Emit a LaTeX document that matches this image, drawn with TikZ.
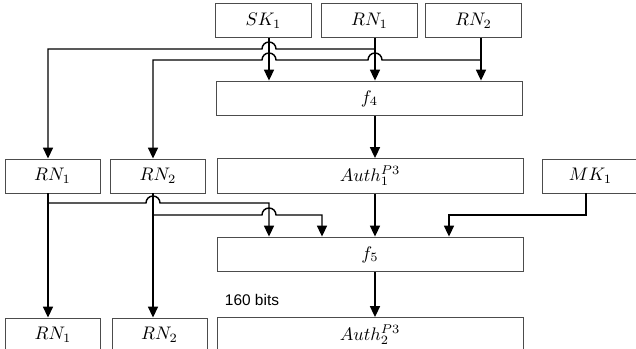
\documentclass[tikz,border=0pt]{standalone}
\usepackage{amsmath}
\usepackage{fontspec}
\newfontfamily\bitsfont{Liberation Sans}
\usetikzlibrary{arrows.meta}

\begin{document}
\begin{tikzpicture}[
  x=0.55pt,y=0.55pt,
  sbox/.style={draw=black!70,line width=0.5pt,minimum width=52.3pt,minimum height=18.7pt,
    inner sep=0pt},
  wbox/.style={sbox,minimum width=168.3pt,minimum height=19.2pt},
  ln/.style={line width=0.8pt},
  arr/.style={ln,-{Triangle[length=6pt,width=5.5pt]}}]
\useasboundingbox (0,0) rectangle (636,-349);
\clip (0,0) rectangle (636,-349);
% columns of the connectors
\coordinate (xa) at (269,0);
\coordinate (xb) at (375,0);
\coordinate (xc) at (481,0);
\coordinate (xd) at (48,0);
\coordinate (xe) at (153,0);
\coordinate (xf) at (322,0);
\coordinate (xg) at (449,0);
\coordinate (xh) at (586,0);
% boxes
\node[sbox] (sk)    at (263.5,-20.5) {$SK_1$};
\node[sbox] (rnta)  at (369.5,-20.5) {$RN_1$};
\node[sbox] (rntb)  at (473.5,-20.5) {$RN_2$};
\node[wbox] (ffour) at (369.5,-98.5) {$f_4$};
\node[sbox] (rnma)  at (52.5,-176)   {$RN_1$};
\node[sbox] (rnmb)  at (158,-176)    {$RN_2$};
\node[wbox] (autha) at (370,-176)    {$Auth_1^{P3}$};
\node[sbox] (mk)    at (590.5,-176)  {$MK_1$};
\node[wbox] (ffive) at (370,-254.5)  {$f_5$};
\node[sbox] (rnba)  at (53,-335)     {$RN_1$};
\node[sbox] (rnbb)  at (159.5,-335)  {$RN_2$};
\node[wbox] (authb) at (370,-335)    {$Auth_2^{P3}$};
\node[font=\bitsfont\fontsize{8.5}{10}\selectfont] (bits) at (252,-299.5) {160 bits};
% upper part
\draw[arr] (sk.south -| xa) -- (xa |- ffour.north);
\draw[arr] (rnta.south -| xb) -- (xb |- ffour.north);
\draw[arr] (rntb.south -| xc) -- (xc |- ffour.north);
\draw[arr] (375,-49) -- (276,-49) arc[start angle=0,end angle=180,radius=7]
  -- (48,-49) -- (xd |- rnma.north);
\draw[arr] (481,-60) -- (382,-60) arc[start angle=0,end angle=180,radius=7]
  -- (276,-60) arc[start angle=0,end angle=180,radius=7]
  -- (153,-60) -- (xe |- rnmb.north);
\draw[arr] (xb |- ffour.south) -- (xb |- autha.north);
% lower part
\draw[arr] (xd |- rnma.south) -- (xd |- rnba.north);
\draw[arr] (xe |- rnmb.south) -- (xe |- rnbb.north);
\draw[arr] (48,-203) -- (146,-203) arc[start angle=180,end angle=0,radius=7]
  -- (269,-203) -- (xa |- ffive.north);
\draw[arr] (153,-215) -- (262,-215) arc[start angle=180,end angle=0,radius=7]
  -- (322,-215) -- (xf |- ffive.north);
\draw[arr] (xh |- mk.south) -- (586,-215) -- (449,-215) -- (xg |- ffive.north);
\draw[arr] (xb |- autha.south) -- (xb |- ffive.north);
\draw[arr] (xb |- ffive.south) -- (xb |- authb.north);
\end{tikzpicture}
\end{document}
